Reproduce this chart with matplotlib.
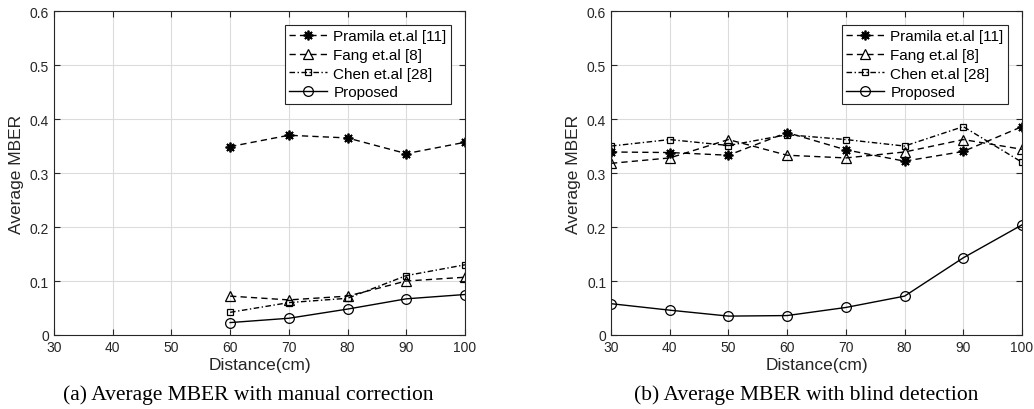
import matplotlib
matplotlib.use('Agg')
from matplotlib import pyplot as plt

# distances (cm)
dist_a = [60, 70, 80, 90, 100]
dist_b = [30, 40, 50, 60, 70, 80, 90, 100]

# (a) manual correction
pramila_a = [0.349, 0.370, 0.365, 0.336, 0.357]
fang_a = [0.072, 0.065, 0.072, 0.100, 0.107]
chen_a = [0.042, 0.060, 0.068, 0.110, 0.130]
proposed_a = [0.023, 0.031, 0.048, 0.067, 0.075]

# (b) blind detection
pramila_b = [0.339, 0.338, 0.333, 0.375, 0.343, 0.322, 0.340, 0.386]
fang_b = [0.318, 0.328, 0.362, 0.333, 0.328, 0.339, 0.362, 0.344]
chen_b = [0.350, 0.362, 0.351, 0.371, 0.362, 0.350, 0.386, 0.320]
proposed_b = [0.058, 0.046, 0.035, 0.036, 0.051, 0.072, 0.143, 0.204]

labels = ['Pramila et.al [11]', 'Fang et.al [8]', 'Chen et.al [28]', 'Proposed']
captions = ['(a) Average MBER with manual correction',
            '(b) Average MBER with blind detection']

plt.rcParams['font.family'] = ['Liberation Sans', 'DejaVu Sans']
tick_col = '#262626'

def drawPanel(ax, x, series):
	# (linestyle, marker, size, edge width) - asterisk like matlab's '*'
	styles = [((0, (4.5, 3)), (8, 2, 0), 7, 1.3), ((0, (4.5, 3)), '^', 7.5, 0.9),
		((0, (4, 1.8, 1, 1.8)), 's', 5, 0.9), ('-', 'o', 7, 0.9)]
	for (ls, mk, ms, mew), y, lab in zip(styles, series, labels):
		ax.plot(x, y, linestyle=ls, marker=mk, markersize=ms, color='black',
			markerfacecolor='none', markeredgewidth=mew,
			linewidth=1.0, label=lab)
	ax.set_xlim(30, 100)
	ax.set_ylim(0, 0.6)
	ax.set_xticks(range(30, 101, 10))
	ax.set_yticks([0, 0.1, 0.2, 0.3, 0.4, 0.5, 0.6])
	ax.set_yticklabels(['0', '0.1', '0.2', '0.3', '0.4', '0.5', '0.6'])
	ax.grid(True, color='#dcdcdc', linewidth=0.8)
	ax.set_axisbelow(True)
	ax.tick_params(direction='in', top=True, right=True, colors=tick_col,
		labelsize=10, length=4, labelcolor=tick_col)
	for s in ax.spines.values():
		s.set_color(tick_col)
		s.set_linewidth(0.8)
	ax.set_xlabel('Distance(cm)', fontsize=12.5, color=tick_col, labelpad=2)
	ax.set_ylabel('Average MBER', fontsize=12.5, color=tick_col, labelpad=4)
	leg = ax.legend(loc='upper right', fontsize=11, fancybox=False, framealpha=1,
		edgecolor=tick_col, handlelength=2.5, borderaxespad=0.9,
		labelspacing=0.3, handletextpad=0.4, borderpad=0.3)
	leg.get_frame().set_linewidth(0.8)

fig = plt.figure(figsize=(10.34, 4.10), dpi=100)
ax1 = fig.add_axes([0.0522, 0.1805, 0.3975, 0.790])
ax2 = fig.add_axes([0.5909, 0.1805, 0.3975, 0.790])

drawPanel(ax1, dist_a, [pramila_a, fang_a, chen_a, proposed_a])
drawPanel(ax2, dist_b, [pramila_b, fang_b, chen_b, proposed_b])

fig.text(248 / 1034, 1 - 395 / 410, captions[0], ha='center', va='center',
	fontsize=15.5, family=['Liberation Serif'])
fig.text(806 / 1034, 1 - 395 / 410, captions[1], ha='center', va='center',
	fontsize=15.5, family=['Liberation Serif'])

fig.savefig('out.png', dpi=100)
